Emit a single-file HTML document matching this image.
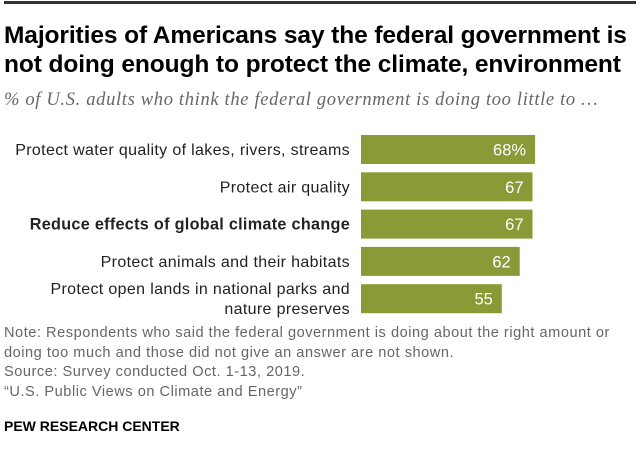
<!DOCTYPE html>
<html><head><meta charset="utf-8"><style>
body{margin:0;width:640px;height:462px;background:#fff;position:relative;overflow:hidden;font-family:"Liberation Sans",sans-serif}
.topline{position:absolute;left:4px;right:4px;top:1px;height:3px;background:#333}
.title{position:absolute;left:4px;top:21px;font-weight:bold;font-size:24.5px;line-height:29px;color:#000;letter-spacing:-0.1px}
.sub{position:absolute;left:4px;top:90px;font-family:"Liberation Serif",serif;font-style:italic;font-size:18.5px;letter-spacing:0.67px;color:#666}
.notes{position:absolute;left:4px;top:324px;font-size:14.6px;letter-spacing:0.52px;line-height:19.7px;color:#666;white-space:nowrap}
.pew{position:absolute;left:4px;top:418px;font-size:14px;font-weight:bold;color:#000}
</style></head><body>
<div class="topline"></div>
<div class="title">Majorities of Americans say the federal government is<br>not doing enough to protect the climate, environment</div>
<div class="sub">% of U.S. adults who think the federal government is doing too little to …</div>
<svg id="chart" width="640" height="462" style="position:absolute;left:0;top:0"></svg>
<div class="notes">Note: Respondents who said the federal government is doing about the right amount or<br>doing too much and those did not give an answer are not shown.<br>Source: Survey conducted Oct. 1-13, 2019.<br>“U.S. Public Views on Climate and Energy”</div>
<div class="pew">PEW RESEARCH CENTER</div>
<script>
const categories=[["Protect water quality of lakes, rivers, streams"],["Protect air quality"],["Reduce effects of global climate change"],["Protect animals and their habitats"],["Protect open lands in national parks and","nature preserves"]];
const values=[68,67,67,62,55];
const valueLabels=["68%","67","67","62","55"];
const boldIndex=[2];
const svg=document.getElementById('chart');
const NS='http://www.w3.org/2000/svg';
const x0=361, scale=2.56, y0=135, step=37.3, bh=29;
function xs(v){return x0+v*scale;}
function ys(i){return y0+i*step;}
values.forEach((v,i)=>{
  const r=document.createElementNS(NS,'rect');
  r.setAttribute('x',x0);r.setAttribute('y',ys(i));r.setAttribute('width',xs(v)-x0);r.setAttribute('height',bh);r.setAttribute('fill','#8a9a36');
  
  
  svg.appendChild(r);
  const t=document.createElementNS(NS,'text');
  t.setAttribute('x',xs(v)-9);t.setAttribute('y',ys(i)+bh/2+6);t.setAttribute('text-anchor','end');
  t.setAttribute('font-size','16.5');t.setAttribute('fill','#fff');t.setAttribute('font-family','Liberation Sans, sans-serif');
  t.textContent=valueLabels[i];
  
  
  svg.appendChild(t);
  const lines=categories[i];
  const l=document.createElementNS(NS,'text');
  l.setAttribute('x',350);l.setAttribute('text-anchor','end');l.setAttribute('font-size','16');
  l.setAttribute('letter-spacing','0.35');
  l.setAttribute('fill','#222');l.setAttribute('font-family','Liberation Sans, sans-serif');
  if(boldIndex.includes(i)){l.setAttribute('font-weight','bold');l.setAttribute('letter-spacing','0.3');l.setAttribute('font-size','16.2');}
  const cy=ys(i)+bh/2+5.5-(lines.length-1)*10;
  lines.forEach((s,k)=>{const ts=document.createElementNS(NS,'tspan');ts.setAttribute('x',350);ts.setAttribute('y',cy+k*20);ts.textContent=s;l.appendChild(ts);});
  
  
  svg.appendChild(l);
});
</script>
</body></html>
